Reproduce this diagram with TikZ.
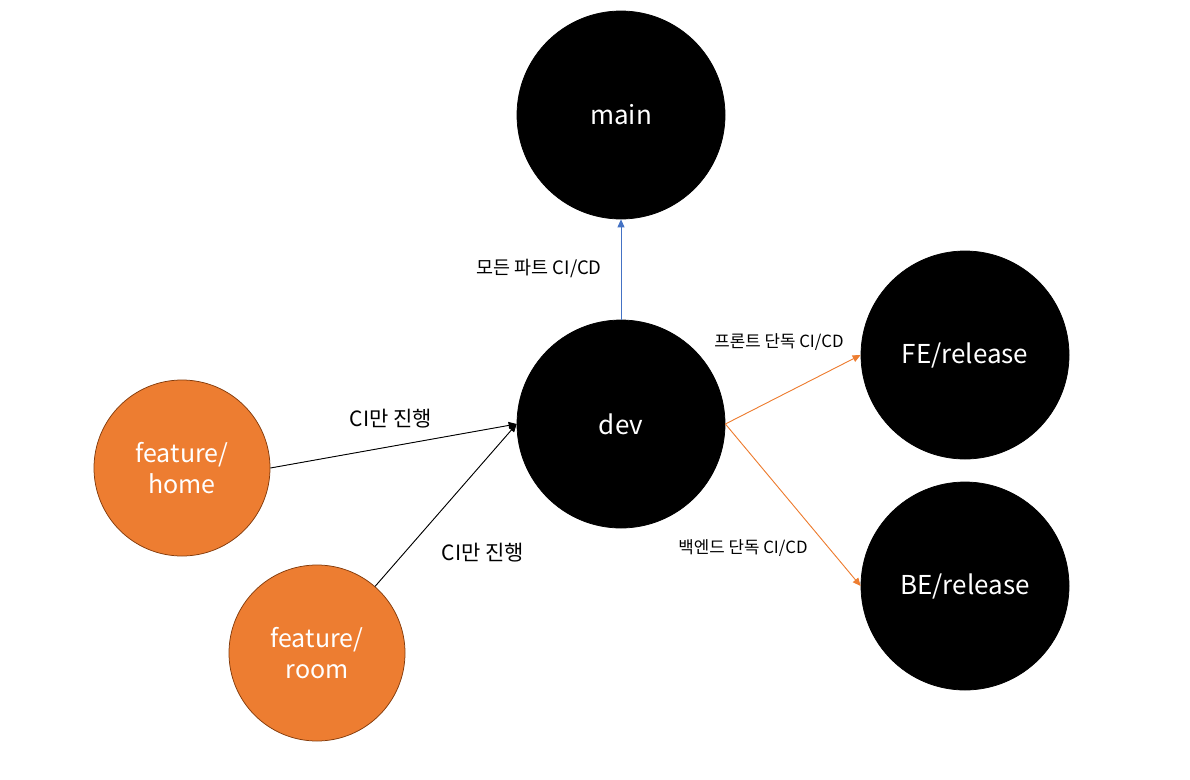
\documentclass[tikz,border=0pt]{standalone}
\usepackage{fontspec}
\setmainfont{Noto Sans CJK KR}
\usetikzlibrary{arrows.meta}
\definecolor{orng}{HTML}{ED7D31}
\definecolor{orngline}{HTML}{843C0C}
\definecolor{blueline}{HTML}{4472C4}
\tikzset{
  bignode/.style={circle,fill=black,draw=black,line width=0.75pt,minimum size=208pt,inner sep=0pt,text=white,font=\fontsize{26}{31}\selectfont,align=center},
  featnode/.style={circle,fill=orng,draw=orngline,line width=0.75pt,minimum size=176pt,inner sep=0pt,text=white,font=\fontsize{25}{31}\selectfont,align=center},
  conn/.style={line width=0.9pt,-{Triangle[length=8pt,width=7pt]}},
  lblbig/.style={font=\fontsize{21}{24}\selectfont,inner sep=0pt},
  lblmid/.style={font=\fontsize{18.5}{22}\selectfont,inner sep=0pt},
  lblsmall/.style={font=\fontsize{16.8}{20}\selectfont,inner sep=0pt},
}
\begin{document}
\begin{tikzpicture}[x=1pt,y=-1pt]
\useasboundingbox (0,0) rectangle (1190,779);
\node[bignode] (main) at (621,115) {main};
\node[bignode] (dev) at (621,424) {dev};
\node[bignode] (fe) at (965,355) {FE/release};
\node[bignode] (be) at (965,586) {BE/release};
\node[featnode] (home) at (182,468) {feature/\\home};
\node[featnode] (room) at (317,653) {feature/\\room};
\draw[conn,draw=blueline,fill=blueline] (dev.north) -- (main.south);
\draw[conn,draw=black,fill=black] (home.east) -- (dev.west);
\draw[conn,draw=black,fill=black] (room) -- (dev.west);
\draw[conn,draw=orng,fill=orng] (dev.east) -- (fe.west);
\draw[conn,draw=orng,fill=orng] (dev.east) -- (be.west);
\node[lblmid] (l1) at (539,269) {모든 파트 CI/CD};
\node[lblsmall] (l2) at (779,342) {프론트 단독 CI/CD};
\node[lblsmall] (l3) at (743,548) {백엔드 단독 CI/CD};
\node[lblbig] (l4) at (391,419) {CI만 진행};
\node[lblbig] (l5) at (483,553) {CI만 진행};
\end{tikzpicture}
\end{document}
